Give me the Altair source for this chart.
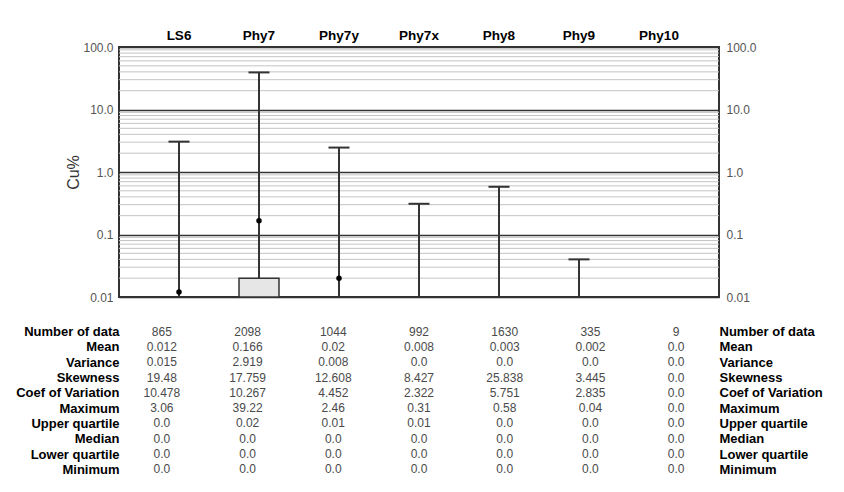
import altair as alt
import pandas as pd

FONT = "Liberation Sans"

categories = ["LS6", "Phy7", "Phy7y", "Phy7x", "Phy8", "Phy9", "Phy10"]
stat_names = ["Number of data", "Mean", "Variance", "Skewness", "Coef of Variation",
              "Maximum", "Upper quartile", "Median", "Lower quartile", "Minimum"]

number_of_data = ["865", "2098", "1044", "992", "1630", "335", "9"]
mean_vals = ["0.012", "0.166", "0.02", "0.008", "0.003", "0.002", "0.0"]
variance = ["0.015", "2.919", "0.008", "0.0", "0.0", "0.0", "0.0"]
skewness = ["19.48", "17.759", "12.608", "8.427", "25.838", "3.445", "0.0"]
coef_variation = ["10.478", "10.267", "4.452", "2.322", "5.751", "2.835", "0.0"]
maximum = ["3.06", "39.22", "2.46", "0.31", "0.58", "0.04", "0.0"]
upper_quartile = ["0.0", "0.02", "0.01", "0.01", "0.0", "0.0", "0.0"]
median = ["0.0", "0.0", "0.0", "0.0", "0.0", "0.0", "0.0"]
lower_quartile = ["0.0", "0.0", "0.0", "0.0", "0.0", "0.0", "0.0"]
minimum = ["0.0", "0.0", "0.0", "0.0", "0.0", "0.0", "0.0"]

major_ticks = [0.01, 0.1, 1, 10, 100]
minor_ticks = [0.02, 0.03, 0.04, 0.05, 0.06, 0.07, 0.08, 0.09,
               0.2, 0.3, 0.4, 0.5, 0.6, 0.7, 0.8, 0.9,
               2, 3, 4, 5, 6, 7, 8, 9,
               20, 30, 40, 50, 60, 70, 80, 90]

stat_lists = [number_of_data, mean_vals, variance, skewness, coef_variation,
              maximum, upper_quartile, median, lower_quartile, minimum]

# ---- data for box plot ----
box_df = pd.DataFrame({
    "cat": categories,
    "max": [float(v) for v in maximum],
    "uq": [float(v) for v in upper_quartile],
    "lq": [float(v) for v in lower_quartile],
    "mean": [float(v) for v in mean_vals],
})

# ---- data for table ----
rows = []
for s, vals in zip(stat_names, stat_lists):
    for c, v in zip(categories, vals):
        rows.append({"stat": s, "cat": c, "val": v})
table_df = pd.DataFrame(rows)

W, H = 600, 250
xscale = alt.Scale(domain=categories, paddingInner=0, paddingOuter=0.25)
yscale = alt.Scale(type="log", domain=[0.01, 100], nice=False, clamp=True)

x_top = alt.X("cat:N", scale=xscale, sort=categories,
              axis=alt.Axis(orient="top", title=None, domain=False, ticks=False,
                            labelFont=FONT, labelFontSize=13.5, labelFontWeight="bold",
                            labelColor="#000", labelPadding=5, labelAngle=0))

label_expr = "datum.value >= 0.1 ? format(datum.value, '.1f') : format(datum.value, '.2f')"

minor = alt.Chart(pd.DataFrame({"v": minor_ticks})).mark_rule(
    color="#c4c4c4", strokeWidth=1
).encode(
    y=alt.Y("v:Q", scale=yscale,
            axis=alt.Axis(orient="left", values=major_ticks, labelExpr=label_expr,
                          grid=True, gridColor="#333", gridWidth=1.3,
                          domain=False, ticks=False,
                          labelFont=FONT, labelFontSize=12, labelColor="#555",
                          labelPadding=6, title="Cu%", titleFont=FONT,
                          titleFontSize=16, titleFontWeight="normal",
                          titleColor="#333", titlePadding=1))
)

base = alt.Chart(box_df)

whiskers = base.transform_filter("datum.max > 0.01").transform_calculate(
    lo="max(datum.uq, 0.01)"
).mark_rule(color="#333", strokeWidth=2).encode(
    x=x_top,
    y=alt.Y("lo:Q", scale=yscale, axis=None),
    y2="max:Q",
)

boxes = base.transform_filter("datum.uq > 0.01").transform_calculate(
    lo="max(datum.lq, 0.01)"
).mark_bar(width=alt.RelativeBandSize(0.5), fill="#e6e6e6", stroke="#333",
           strokeWidth=1.5).encode(
    x=x_top,
    y=alt.Y("lo:Q", scale=yscale, axis=None),
    y2="uq:Q",
)

caps = base.transform_filter("datum.max > 0.01").mark_tick(
    color="#333", thickness=2, size=21, opacity=1
).encode(
    x=x_top,
    y=alt.Y("max:Q", scale=yscale,
            axis=alt.Axis(orient="right", values=major_ticks, labelExpr=label_expr,
                          grid=False, domain=False, ticks=False,
                          labelFont=FONT, labelFontSize=12, labelColor="#555",
                          labelPadding=7, title=None)),
)

means = base.transform_filter("datum.mean >= 0.01").mark_circle(
    size=30, color="#000", opacity=1
).encode(
    x=x_top,
    y=alt.Y("mean:Q", scale=yscale, axis=None),
)

top = alt.layer(minor, whiskers, boxes, caps, means).resolve_axis(
    y="independent"
).properties(width=W, height=H)

# ---- statistics table ----
tx = alt.X("cat:N", scale=xscale, sort=categories, axis=None)
ty_scale = alt.Scale(domain=stat_names, paddingInner=0, paddingOuter=0)

t_left = alt.Chart(table_df).mark_text(font=FONT, fontSize=12, color="#4a4a4a").encode(
    x=tx,
    y=alt.Y("stat:N", sort=stat_names, scale=ty_scale,
            axis=alt.Axis(orient="left", domain=False, ticks=False, labelPadding=0,
                          labelFont=FONT, labelFontSize=13, labelFontWeight="bold",
                          labelColor="#000", title=None, labelLimit=0)),
    text="val:N",
)
t_right = alt.Chart(table_df).mark_text(font=FONT, fontSize=12, opacity=0).encode(
    x=tx,
    y=alt.Y("stat:N", sort=stat_names, scale=ty_scale,
            axis=alt.Axis(orient="right", domain=False, ticks=False, labelPadding=0,
                          labelFont=FONT, labelFontSize=13, labelFontWeight="bold",
                          labelColor="#000", title=None, labelLimit=0,
                          labelAlign="left")),
    text="val:N",
)
table = alt.layer(t_left, t_right).resolve_axis(y="independent").properties(
    width=W, height=153, view=alt.ViewBackground(stroke=None)
)

chart = alt.vconcat(top, table, spacing=20).properties(
    padding={"left": 15, "top": 27, "right": 5, "bottom": 5},
    background="white",
).configure_view(stroke="#333", strokeWidth=2)

chart.save("out.html", embed_options={"renderer": "svg", "actions": False})
